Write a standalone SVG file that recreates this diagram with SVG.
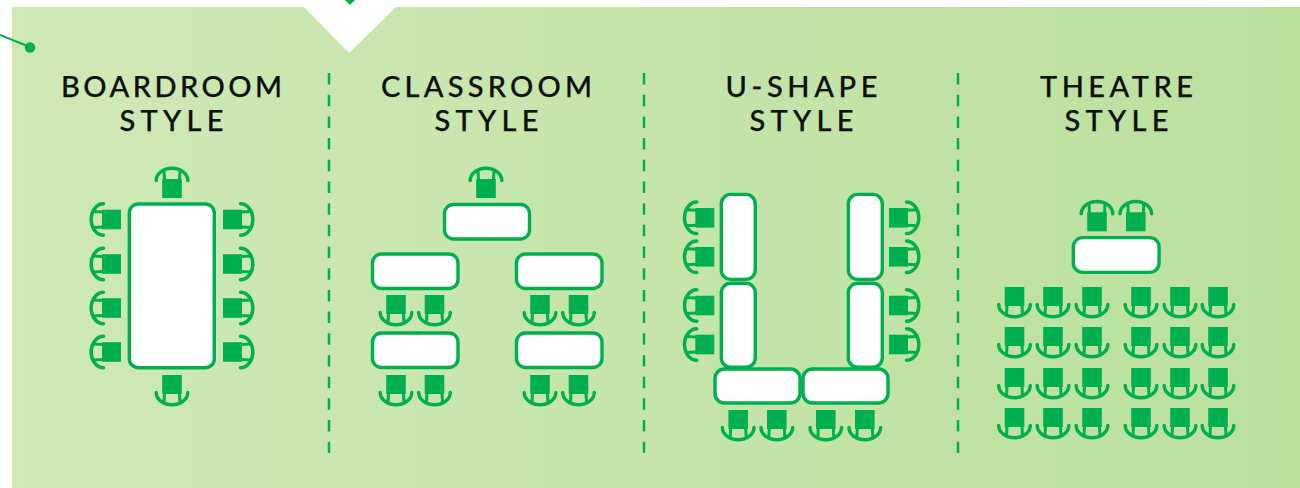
<svg xmlns="http://www.w3.org/2000/svg" xmlns:xlink="http://www.w3.org/1999/xlink" width="1300" height="488" viewBox="0 0 1300 488">
<style>
.t{font-family:"Lato","Noto Sans",sans-serif;font-size:29px;font-weight:500;fill:#0c0f0c;stroke:#0c0f0c;stroke-width:.25;text-anchor:middle}
.tb{fill:#fff;stroke:#00b050;stroke-width:3.4}
.d{stroke:#00b050;stroke-width:2.5;stroke-dasharray:11.5 10.19;fill:none}
</style>
<defs>
<linearGradient id="bg" x1="0" x2="1" y1="0" y2="0"><stop offset="0" stop-color="#cfe9b5"/><stop offset="1" stop-color="#bae09e"/></linearGradient>
<g id="c"><rect x="-9.800" y="-19" width="19.600" height="19" fill="#00b050"/><path d="M-15.800-17.500A15.800 12.300 0 0 1 15.800-17.500" fill="none" stroke="#00b050" stroke-width="3.500" stroke-linecap="round"/><path d="M-8-28L-7.500-18M8-28L7.500-18" fill="none" stroke="#00b050" stroke-width="3"/></g>
</defs>
<rect width="1300" height="488" fill="#fff"/>
<path d="M12 7H304L349 53L396 7H1300V488H12Z" fill="url(#bg)"/>
<g id="connectors">
<path d="M0 35L30 47" stroke="#00b050" stroke-width="2" fill="none"/><circle cx="30" cy="47.500" r="5.200" fill="#00b050"/>
<path d="M345 0H355L350 5Z" fill="#00b050"/>
<path class="d" d="M329 73V453M644 73V453M958 73V453"/>
</g>
<g id="boardroom">
<text class="t" x="171.500" y="97" textLength="221">BOARDROOM</text><text class="t" x="171.500" y="131" textLength="104">STYLE</text>
<rect class="tb" x="129.300" y="204" width="85" height="163.700" rx="9"/>
<use xlink:href="#c" transform="translate(172,198)"/><use xlink:href="#c" transform="translate(172,375) rotate(180)"/>
<use xlink:href="#c" transform="translate(121,219.500) rotate(-90)"/><use xlink:href="#c" transform="translate(121,264) rotate(-90)"/><use xlink:href="#c" transform="translate(121,308) rotate(-90)"/><use xlink:href="#c" transform="translate(121,352) rotate(-90)"/>
<use xlink:href="#c" transform="translate(223,219.500) rotate(90)"/><use xlink:href="#c" transform="translate(223,264) rotate(90)"/><use xlink:href="#c" transform="translate(223,308) rotate(90)"/><use xlink:href="#c" transform="translate(223,352) rotate(90)"/>
</g>
<g id="classroom">
<text class="t" x="486.500" y="97" textLength="211">CLASSROOM</text><text class="t" x="486.500" y="131" textLength="104">STYLE</text>
<rect class="tb" x="444.500" y="204.500" width="85" height="34.500" rx="9"/>
<rect class="tb" x="372.500" y="254" width="85.500" height="34.500" rx="9"/><rect class="tb" x="516.500" y="254" width="85.500" height="34.500" rx="9"/>
<rect class="tb" x="372.500" y="333" width="85.500" height="34.500" rx="9"/><rect class="tb" x="516.500" y="333" width="85.500" height="34.500" rx="9"/>
<use xlink:href="#c" transform="translate(486,198)"/>
<use xlink:href="#c" transform="translate(396,295) rotate(180)"/><use xlink:href="#c" transform="translate(434.500,295) rotate(180)"/><use xlink:href="#c" transform="translate(540,295) rotate(180)"/><use xlink:href="#c" transform="translate(578.500,295) rotate(180)"/>
<use xlink:href="#c" transform="translate(396,375) rotate(180)"/><use xlink:href="#c" transform="translate(434.500,375) rotate(180)"/><use xlink:href="#c" transform="translate(540,375) rotate(180)"/><use xlink:href="#c" transform="translate(578.500,375) rotate(180)"/>
</g>
<g id="ushape">
<text class="t" x="801.500" y="97" textLength="152">U-SHAPE</text><text class="t" x="801.500" y="131" textLength="104">STYLE</text>
<rect class="tb" x="721.300" y="194.400" width="34" height="85" rx="9.500"/><rect class="tb" x="721.300" y="283.300" width="34" height="84" rx="9.500"/>
<rect class="tb" x="848.300" y="194.400" width="34" height="85" rx="9.500"/><rect class="tb" x="848.300" y="283.300" width="34" height="84" rx="9.500"/>
<rect class="tb" x="715" y="369" width="85" height="34" rx="9.500"/><rect class="tb" x="803" y="369" width="85" height="34" rx="9.500"/>
<use xlink:href="#c" transform="translate(714.300,217.800) rotate(-90)"/><use xlink:href="#c" transform="translate(714.300,256.800) rotate(-90)"/><use xlink:href="#c" transform="translate(714.300,305.500) rotate(-90)"/><use xlink:href="#c" transform="translate(714.300,344.500) rotate(-90)"/>
<use xlink:href="#c" transform="translate(889,217.800) rotate(90)"/><use xlink:href="#c" transform="translate(889,256.800) rotate(90)"/><use xlink:href="#c" transform="translate(889,305.500) rotate(90)"/><use xlink:href="#c" transform="translate(889,344.500) rotate(90)"/>
<use xlink:href="#c" transform="translate(738.200,410) rotate(180)"/><use xlink:href="#c" transform="translate(776.800,410) rotate(180)"/><use xlink:href="#c" transform="translate(825.800,410) rotate(180)"/><use xlink:href="#c" transform="translate(864.800,410) rotate(180)"/>
</g>
<g id="theatre">
<text class="t" x="1116.500" y="97" textLength="153">THEATRE</text><text class="t" x="1116.500" y="131" textLength="104">STYLE</text>
<rect class="tb" x="1073.300" y="237.600" width="85.800" height="34.800" rx="9.500"/>
<use xlink:href="#c" transform="translate(1097,231.300)"/><use xlink:href="#c" transform="translate(1135.800,231.300)"/>
<g id="row1"><use xlink:href="#c" transform="translate(1014.500,287) rotate(180)"/><use xlink:href="#c" transform="translate(1053,287) rotate(180)"/><use xlink:href="#c" transform="translate(1092,287) rotate(180)"/><use xlink:href="#c" transform="translate(1141,287) rotate(180)"/><use xlink:href="#c" transform="translate(1180,287) rotate(180)"/><use xlink:href="#c" transform="translate(1218,287) rotate(180)"/></g>
<use xlink:href="#row1" y="40"/><use xlink:href="#row1" y="81"/><use xlink:href="#row1" y="121"/>
</g>
</svg>
